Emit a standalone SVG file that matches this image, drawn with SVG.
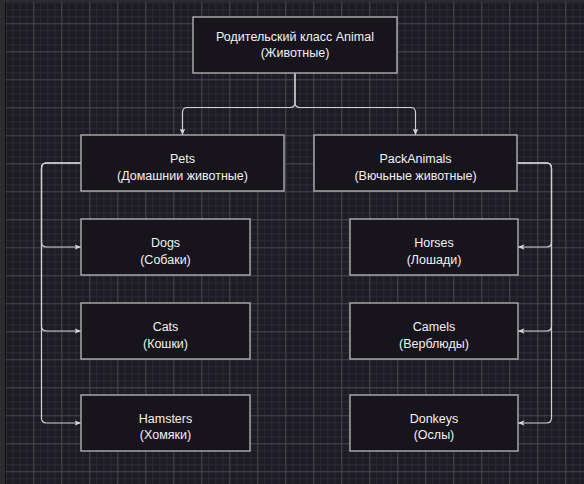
<svg xmlns="http://www.w3.org/2000/svg" width="584" height="484" viewBox="0 0 584 484">
  <defs>
    <pattern id="grid" patternUnits="userSpaceOnUse" x="5.3" y="-4.7" width="28" height="28">
      <rect width="28" height="28" fill="#1d1b24"/>
      <path d="M7.5,0V28M14.5,0V28M21.5,0V28M0,7.5H28M0,14.5H28M0,21.5H28" stroke="#2c2a35" stroke-width="1"/>
      <path d="M0.5,0V28M0,0.5H28" stroke="#4a4852" stroke-width="1"/>
    </pattern>
    <marker id="arr" markerUnits="userSpaceOnUse" markerWidth="7" markerHeight="8" viewBox="0 0 7 8" refX="6.5" refY="4" orient="auto">
      <path d="M0,1.2 L6.5,4 L0,6.8 L1.6,4 z" fill="#d6d6d6"/>
    </marker>
    <style>
      .box { fill: #17141c; stroke: #b0b0b0; stroke-width: 1.4; }
      .lbl { fill: #f2f2f2; font-family: "Liberation Sans", Arial, sans-serif; font-size: 12.5px; text-anchor: middle; }
      .conn { fill: none; stroke: #d0d0d0; stroke-width: 1.2; marker-end: url(#arr); }
    </style>
  </defs>

  <rect x="0" y="0" width="584" height="484" fill="url(#grid)"/>
  <rect x="0" y="0" width="5" height="484" fill="#2b2b30"/>
  <rect x="0" y="0" width="584" height="2" fill="#2b2b30"/>
  <rect x="5" y="2" width="1" height="482" fill="#0e0e10"/>

  <g id="connectors">
    <path class="conn" d="M295,73 V102.5 Q295,107.5 290,107.5 H187.5 Q182.5,107.5 182.5,112.5 V135"/>
    <path class="conn" d="M295,73 V102.5 Q295,107.5 300,107.5 H410.5 Q415.5,107.5 415.5,112.5 V135"/>
    <path class="conn" d="M81,163 H46.5 Q41.5,163 41.5,168 V242 Q41.5,247 46.5,247 H81"/>
    <path class="conn" d="M81,163 H46.5 Q41.5,163 41.5,168 V326 Q41.5,331 46.5,331 H81"/>
    <path class="conn" d="M81,163 H46.5 Q41.5,163 41.5,168 V418 Q41.5,423 46.5,423 H81"/>
    <path class="conn" d="M517,163 H546.5 Q551.5,163 551.5,168 V242 Q551.5,247 546.5,247 H518"/>
    <path class="conn" d="M517,163 H546.5 Q551.5,163 551.5,168 V326 Q551.5,331 546.5,331 H518"/>
    <path class="conn" d="M517,163 H546.5 Q551.5,163 551.5,168 V418 Q551.5,423 546.5,423 H518"/>
  </g>

  <g id="animal">
    <rect class="box" x="193" y="17" width="204" height="56"/>
    <text class="lbl" x="295" y="41">Родительский класс Animal</text>
    <text class="lbl" x="295" y="57">(Животные)</text>
  </g>
  <g id="pets">
    <rect class="box" x="81" y="135" width="203" height="56"/>
    <text class="lbl" x="182.5" y="163">Pets</text>
    <text class="lbl" x="182.5" y="179.5">(Домашнии животные)</text>
  </g>
  <g id="packanimals">
    <rect class="box" x="314" y="135" width="203" height="56"/>
    <text class="lbl" x="415.5" y="163">PackAnimals</text>
    <text class="lbl" x="415.5" y="179.5">(Вючьные животные)</text>
  </g>
  <g id="dogs">
    <rect class="box" x="81" y="219" width="169" height="56"/>
    <text class="lbl" x="165.5" y="247">Dogs</text>
    <text class="lbl" x="165.5" y="263.5">(Собаки)</text>
  </g>
  <g id="cats">
    <rect class="box" x="81" y="303" width="169" height="56"/>
    <text class="lbl" x="165.5" y="331">Cats</text>
    <text class="lbl" x="165.5" y="347.5">(Кошки)</text>
  </g>
  <g id="hamsters">
    <rect class="box" x="81" y="395" width="169" height="56"/>
    <text class="lbl" x="165.5" y="422.5">Hamsters</text>
    <text class="lbl" x="165.5" y="439">(Хомяки)</text>
  </g>
  <g id="horses">
    <rect class="box" x="350" y="219" width="168" height="56"/>
    <text class="lbl" x="434" y="247">Horses</text>
    <text class="lbl" x="434" y="263.5">(Лошади)</text>
  </g>
  <g id="camels">
    <rect class="box" x="350" y="303" width="168" height="56"/>
    <text class="lbl" x="434" y="331">Camels</text>
    <text class="lbl" x="434" y="347.5">(Верблюды)</text>
  </g>
  <g id="donkeys">
    <rect class="box" x="350" y="395" width="168" height="56"/>
    <text class="lbl" x="434" y="422.5">Donkeys</text>
    <text class="lbl" x="434" y="439">(Ослы)</text>
  </g>
</svg>
